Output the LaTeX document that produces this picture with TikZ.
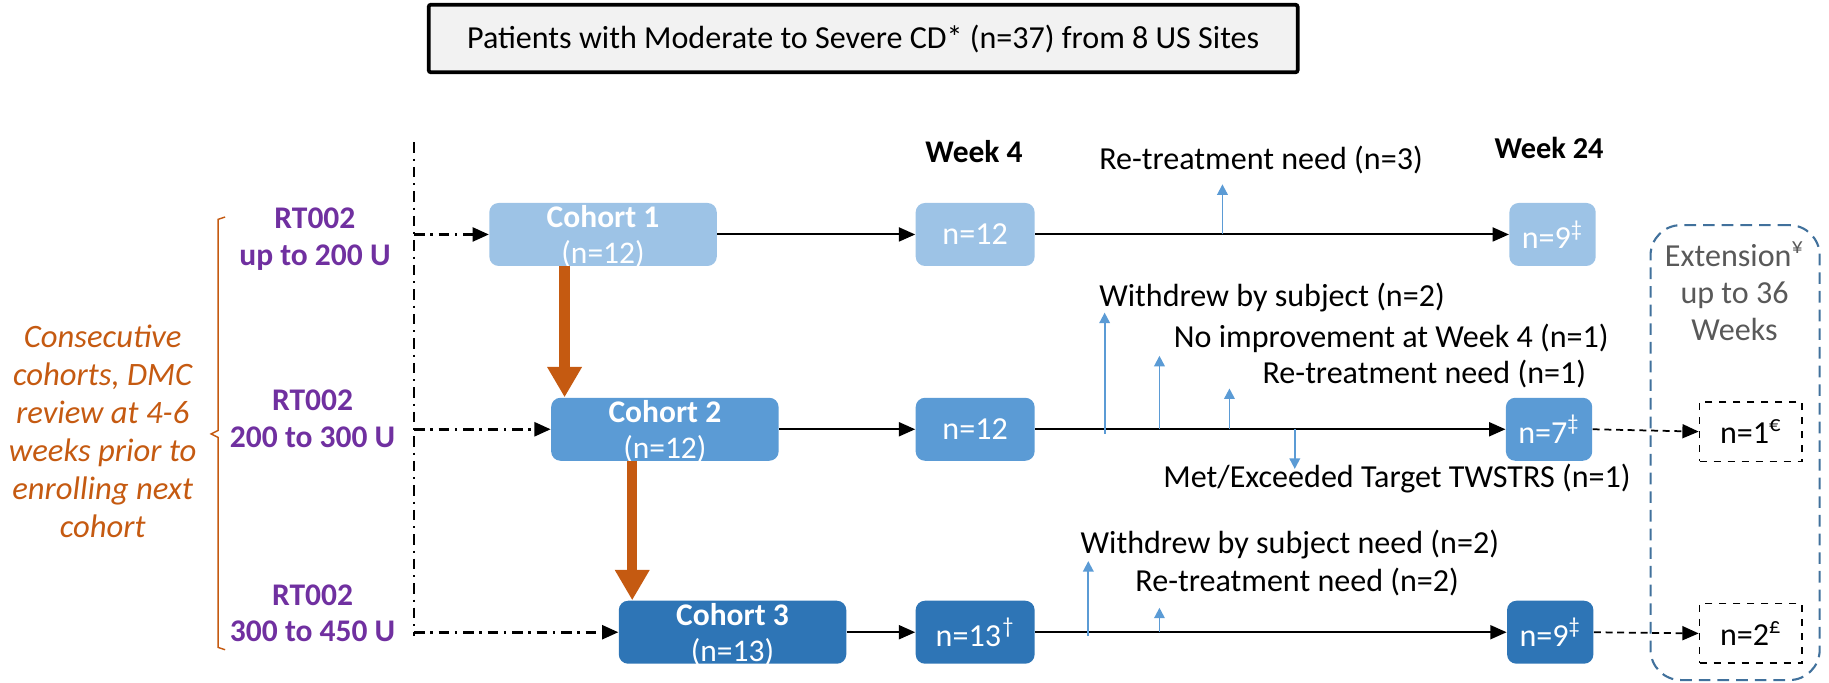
\documentclass[tikz,border=0pt]{standalone}
\usepackage{fontspec}
\setmainfont{Carlito}
\usetikzlibrary{arrows.meta,calc}
\definecolor{cA}{HTML}{9DC3E6}
\definecolor{cB}{HTML}{5B9BD5}
\definecolor{cC}{HTML}{2E75B6}
\definecolor{orng}{HTML}{C55A11}
\definecolor{purp}{HTML}{7030A0}
\definecolor{extblue}{HTML}{41719C}
\definecolor{txtgray}{HTML}{595959}
\definecolor{topfill}{HTML}{F2F2F2}
\tikzset{
  base/.style={font=\fontsize{13.75}{16}\selectfont},
  rbox/.style={rounded corners=4pt, minimum height=27pt, inner sep=0pt, draw=none},
  cohbox/.style={rbox, minimum width=97.5pt},
  wkbox/.style={rbox, minimum width=51pt, text=white, font=\fontsize{13.75}{16}\selectfont},
  wtfbox/.style={rbox, minimum width=37pt, text=white, font=\fontsize{13.75}{16}\selectfont},
  cohtext/.style={text=white, align=center, inner sep=0pt, font=\fontsize{13.5}{15.5}\selectfont},
  extsmall/.style={draw=black, dashed, line width=0.7pt, minimum width=44pt, minimum height=25.5pt, inner sep=0pt, font=\fontsize{13.75}{16}\selectfont},
  lbl/.style={anchor=west, inner sep=0pt, font=\fontsize{13.75}{16}\selectfont},
  rtlbl/.style={text=purp, align=center, inner sep=0pt, font=\fontsize{13.5}{15.5}\bfseries},
  blk/.style={line width=0.85pt, -{Triangle[length=7pt,width=6pt]}},
  ddash/.style={line width=1.1pt, dash pattern=on 4.5pt off 2.5pt on 1pt off 2.5pt},
  ddarrow/.style={ddash, -{Triangle[length=7pt,width=6pt]}},
  barrow/.style={draw=cB, line width=0.8pt, -{Triangle[length=4.5pt,width=4.5pt]}},
  oarrow/.style={draw=orng, line width=4.4pt, -{Triangle[length=13pt,width=14pt]}},
  dasharrow/.style={line width=0.75pt, dash pattern=on 3pt off 2pt, -{Triangle[length=7pt,width=6pt]}},
}
\begin{document}
\begin{tikzpicture}[x=0.5pt,y=-0.5pt, base]
\useasboundingbox (0,0) rectangle (1568,585.5);

% top box
\node[draw=black, line width=1.6pt, fill=topfill, rounded corners=1pt, minimum width=372.5pt, minimum height=29pt, inner sep=0pt, font=\fontsize{13.75}{16}\selectfont] (top) at (740,33) {Patients with Moderate to Severe CD* (n=37) from 8 US Sites};

% left note and brace
\node[text=orng, align=center, inner sep=0pt, font=\fontsize{14}{16.3}\itshape] (note) at (88,370) {Consecutive\\cohorts, DMC\\review at 4-6\\weeks prior to\\enrolling next\\cohort};
\draw[orng, line width=0.6pt] (193,186) -- (187,188) -- (187,369) -- (181,372) -- (187,375) -- (187,555) -- (193,557);

% dose labels
\node[rtlbl] (rt1) at (270,205) {RT002\\up to 200 U};
\node[rtlbl] (rt2) at (268,359) {RT002\\200 to 300 U};
\node[rtlbl] (rt3) at (268,526) {RT002\\300 to 450 U};

% cohort boxes
\node[cohbox, fill=cA] (c1) at (517,201) {};
\node[cohbox, fill=cB] (c2) at (570,368) {};
\node[cohbox, fill=cC] (c3) at (628,542) {};
\node[cohtext] (t1) at ([yshift=-1pt]c1.center) {\textbf{Cohort 1}\\(n=12)};
\node[cohtext] (t2) at ([yshift=-1pt]c2.center) {\textbf{Cohort 2}\\(n=12)};
\node[cohtext] (t3) at ([yshift=-1pt]c3.center) {\textbf{Cohort 3}\\(n=13)};

% week 4 boxes
\node[wkbox, fill=cA] (w4a) at (836,201) {n=12};
\node[wkbox, fill=cB] (w4b) at (836,368) {n=12};
\node[wkbox, fill=cC] (w4c) at (836,542) {n=13\textsuperscript{\kern0.5pt\dag}};
\node[font=\fontsize{13.5}{15}\bfseries, inner sep=0pt] (wk4) at (835,130) {Week 4};

% week 24 boxes
\node[wtfbox, fill=cA] (w24a) at (1331,201) {n=9\textsuperscript{\ddag}};
\node[wtfbox, fill=cB] (w24b) at (1328,368) {n=7\textsuperscript{\ddag}};
\node[wtfbox, fill=cC] (w24c) at (1329,542) {n=9\textsuperscript{\ddag}};
\node[font=\fontsize{13}{15}\bfseries, inner sep=0pt] (wk24) at (1328,127) {Week 24};

% extension
\node[draw=extblue, line width=0.9pt, dash pattern=on 5pt off 3pt, rounded corners=13pt, minimum width=72.5pt, minimum height=195pt, inner sep=0pt] (ext) at (1487.5,388) {};
\node[text=txtgray, align=center, inner sep=0pt, font=\fontsize{13.75}{16}\selectfont] (extt) at (1487,250) {Extension\textsuperscript{¥}\\up to 36\\Weeks};
\node[extsmall] (e1) at (1501,370) {n=1\textsuperscript{€}};
\node[extsmall] (e2) at (1501,543) {n=2\textsuperscript{£}};

% dash-dot enrolment line
\coordinate (vt) at (355,122);
\coordinate (vb) at (355,545);
\coordinate (d1) at (355,201);
\coordinate (d2) at (355,368);
\coordinate (d3) at (355,542);
\draw[ddash] (vt) -- (vb);
\draw[ddarrow] (d1) -- (c1.west);
\draw[ddarrow] (d2) -- (c2.west);
\draw[ddarrow] (d3) -- (c3.west);

% orange arrows
\coordinate (ox1) at (484,0);
\coordinate (ox2) at (542,0);
\draw[oarrow] (c1.south -| ox1) -- (c2.north -| ox1);
\draw[oarrow] (c2.south -| ox2) -- (c3.north -| ox2);

% main flow arrows
\draw[blk] (c1.east) -- (w4a.west);
\draw[blk] (c2.east) -- (w4b.west);
\draw[blk] (c3.east) -- (w4c.west);
\draw[blk] (w4a.east) -- (w24a.west);
\draw[blk] (w4b.east) -- (w24b.west);
\draw[blk] (w4c.east) -- (w24c.west);
\draw[dasharrow] (w24b.east) -- (e1.west);
\draw[dasharrow] (w24c.east) -- (e2.west);

% event labels
\node[lbl] (l1) at (942,137) {Re-treatment need (n=3)};
\node[lbl] (l2) at (942,255) {Withdrew by subject (n=2)};
\node[lbl] (l3) at (1006,290) {No improvement at Week 4 (n=1)};
\node[lbl] (l4) at (1082,321) {Re-treatment need (n=1)};
\node[lbl] (l5) at (997,410) {Met/Exceeded Target TWSTRS (n=1)};
\node[lbl] (l6) at (926,467) {Withdrew by subject need (n=2)};
\node[lbl] (l7) at (973,499) {Re-treatment need (n=2)};

% event arrows
\coordinate (a1s) at (1048,201); \coordinate (a1e) at (1048,158);
\coordinate (a2s) at (947,372);  \coordinate (a2e) at (947,268);
\coordinate (a3s) at (994,368);  \coordinate (a3e) at (994,305);
\coordinate (a4s) at (1054,368); \coordinate (a4e) at (1054,333);
\coordinate (a5s) at (1110,368); \coordinate (a5e) at (1110,402);
\coordinate (a6s) at (933,545);  \coordinate (a6e) at (933,481);
\coordinate (a7s) at (994,542);  \coordinate (a7e) at (994,521);
\draw[barrow] (a1s) -- (a1e);
\draw[barrow] (a2s) -- (a2e);
\draw[barrow] (a3s) -- (a3e);
\draw[barrow] (a4s) -- (a4e);
\draw[barrow] (a5s) -- (a5e);
\draw[barrow] (a6s) -- (a6e);
\draw[barrow] (a7s) -- (a7e);
\end{tikzpicture}
\end{document}
